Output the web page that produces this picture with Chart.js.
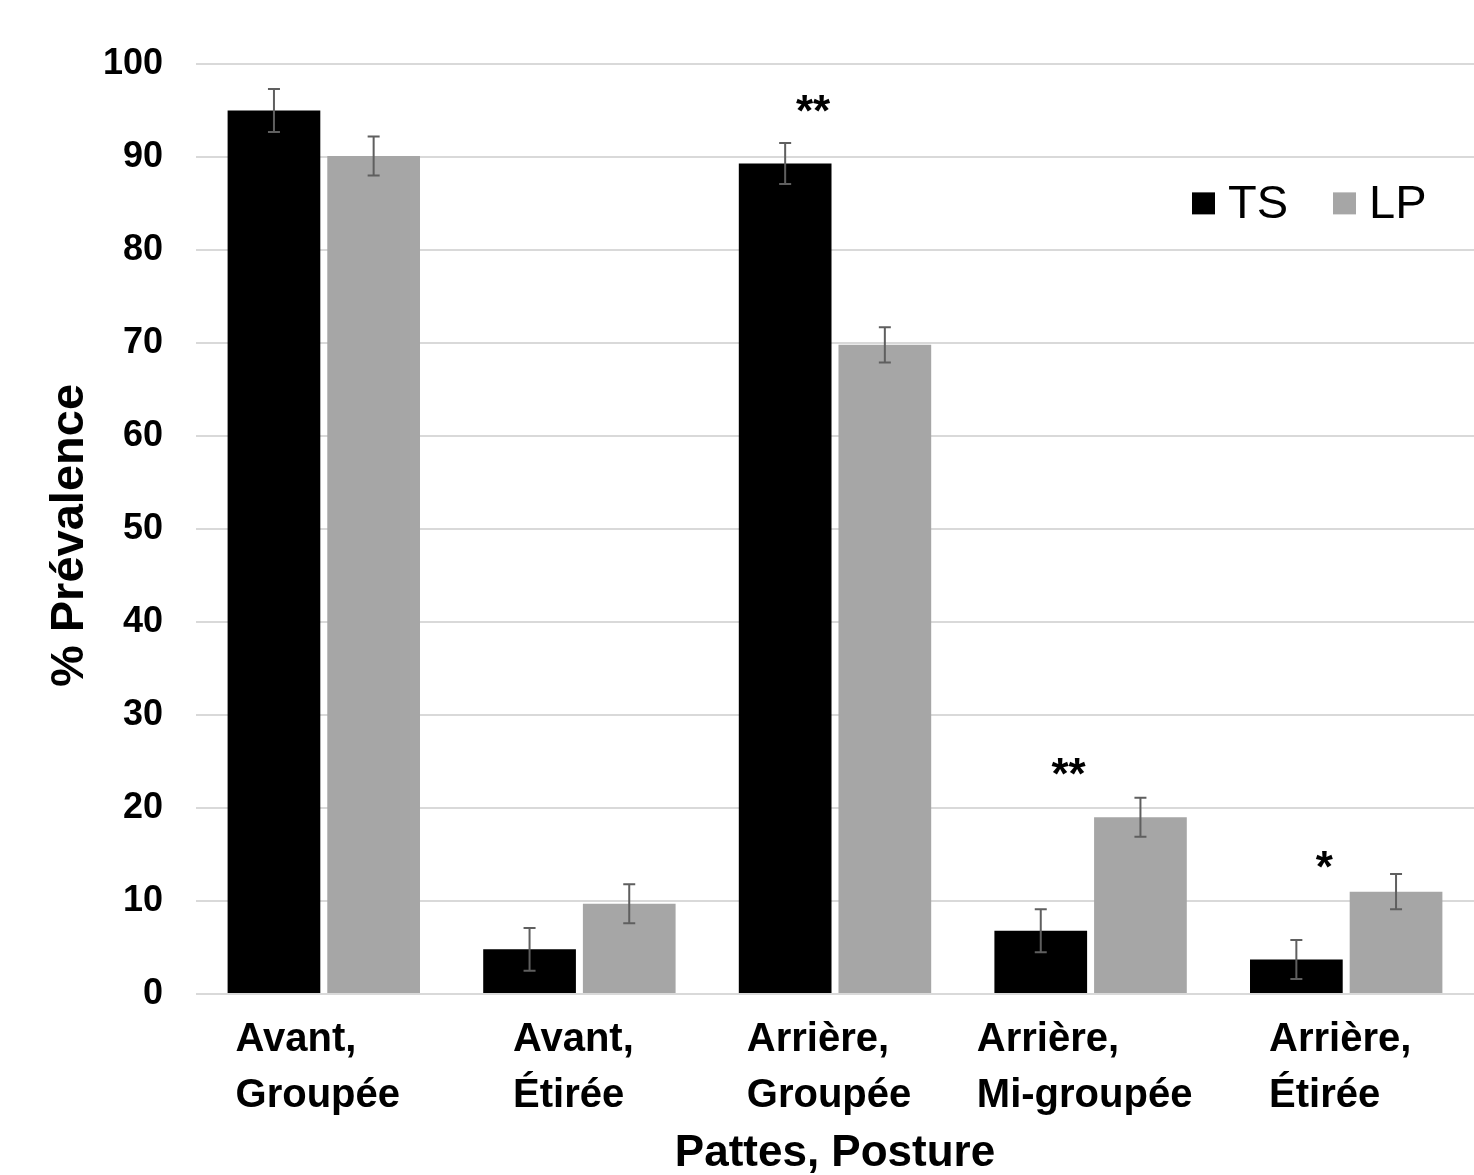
<!DOCTYPE html>
<html>
<head>
<meta charset="utf-8">
<script src="https://cdn.jsdelivr.net/npm/chart.js@4/dist/chart.umd.min.js"></script>
<style>
  html, body { margin: 0; padding: 0; background: #fff; }
  #wrap { width: 1474px; height: 1175px; position: relative; }
</style>
</head>
<body>
<div id="wrap"><canvas id="postureChart"></canvas></div>
<script>
// categories (multi-line labels)
const categories = [
    ["Avant,", "Groupée"],
    ["Avant,", "Étirée"],
    ["Arrière,", "Groupée"],
    ["Arrière,", "Mi-groupée"],
    ["Arrière,", "Étirée"]
];

// % prevalence per group
const tsValues = [95.0, 4.8, 89.3, 6.8, 3.7];
const lpValues = [90.1, 9.7, 69.8, 19.0, 11.0];

// error bars (+/-)
const tsErrors = [2.3, 2.3, 2.2, 2.3, 2.1];
const lpErrors = [2.1, 2.1, 1.9, 2.1, 1.9];

// significance marks and the value where they sit
const sigMarks = ["", "", "**", "**", "*"];
const sigLevel = [null, null, 93.3, 22.0, 12.0];

const yTicks = [0, 10, 20, 30, 40, 50, 60, 70, 80, 90, 100];

const FONT = "Liberation Sans, Arial, Helvetica, sans-serif";

// error bars
const errorBarPlugin = {
    id: "errorBars",
    afterDatasetsDraw(chart) {
        const ctx = chart.ctx;
        const y = chart.scales.y;
        const errs = [tsErrors, lpErrors];
        ctx.save();
        ctx.strokeStyle = "#5f5f5f";
        ctx.lineWidth = 2;
        chart.data.datasets.forEach(function (ds, di) {
            const meta = chart.getDatasetMeta(di);
            meta.data.forEach(function (bar, i) {
                const v = ds.data[i];
                const e = errs[di][i];
                const yTop = y.getPixelForValue(v + e);
                const yBot = y.getPixelForValue(v - e);
                ctx.beginPath();
                ctx.moveTo(bar.x, yTop);
                ctx.lineTo(bar.x, yBot);
                ctx.moveTo(bar.x - 6, yTop);
                ctx.lineTo(bar.x + 6, yTop);
                ctx.moveTo(bar.x - 6, yBot);
                ctx.lineTo(bar.x + 6, yBot);
                ctx.stroke();
            });
        });
        ctx.restore();
    }
};

// x labels (left aligned lines), stars and legend
const extrasPlugin = {
    id: "extras",
    afterDraw(chart) {
        const ctx = chart.ctx;
        const x = chart.scales.x;
        const y = chart.scales.y;
        const area = chart.chartArea;
        ctx.save();

        // category labels
        ctx.fillStyle = "#000";
        ctx.font = "bold 40px " + FONT;
        ctx.textAlign = "left";
        ctx.textBaseline = "alphabetic";
        categories.forEach(function (lines, i) {
            const cx = x.getPixelForValue(i);
            const w = Math.max.apply(null, lines.map(function (l) { return ctx.measureText(l).width; }));
            const left = cx - w / 2 - 6;
            lines.forEach(function (l, k) {
                ctx.fillText(l, left, area.bottom + 57 + k * 56);
            });
        });

        // significance stars
        ctx.font = "bold 44px " + FONT;
        ctx.textAlign = "center";
        sigMarks.forEach(function (m, i) {
            if (!m) return;
            ctx.fillText(m, x.getPixelForValue(i) - 22, y.getPixelForValue(sigLevel[i]));
        });

        // legend
        ctx.font = "47px " + FONT;
        ctx.textAlign = "left";
        let lx = area.right - 282;
        const ly = y.getPixelForValue(83.4);
        chart.data.datasets.forEach(function (ds) {
            ctx.fillStyle = ds.backgroundColor;
            ctx.fillRect(lx, ly - 26, 23, 22);
            ctx.fillStyle = "#000";
            ctx.fillText(ds.label, lx + 36, ly);
            lx += 141;
        });

        ctx.restore();
    }
};

const canvas = document.getElementById("postureChart");
new Chart(canvas, {
    type: "bar",
    data: {
        labels: categories,
        datasets: [
            {
                label: "TS",
                data: tsValues,
                backgroundColor: "#000000",
                categoryPercentage: 0.78,
                barPercentage: 0.93
            },
            {
                label: "LP",
                data: lpValues,
                backgroundColor: "#a6a6a6",
                categoryPercentage: 0.78,
                barPercentage: 0.93
            }
        ]
    },
    options: {
        responsive: true,
        maintainAspectRatio: false,
        animation: false,
        layout: { padding: { top: 64, right: 0, bottom: 0, left: 0 } },
        plugins: {
            legend: { display: false },
            tooltip: { enabled: false }
        },
        scales: {
            x: {
                grid: { display: false },
                border: { display: false },
                ticks: { display: false },
                afterFit: function (scale) { scale.height = 181; },
                title: {
                    display: true,
                    text: "Pattes, Posture",
                    color: "#000",
                    font: { family: FONT, size: 44, weight: "bold" },
                    padding: { top: 0, bottom: -5 }
                }
            },
            y: {
                min: 0,
                max: 100,
                afterBuildTicks: function (scale) {
                    scale.ticks = yTicks.map(function (v) { return { value: v }; });
                },
                grid: { color: "#d9d9d9", lineWidth: 2, drawTicks: false },
                border: { display: false },
                ticks: {
                    color: "#000",
                    padding: 33,
                    font: { family: FONT, size: 36, weight: "bold" }
                },
                afterFit: function (scale) { scale.width = 196; },
                title: {
                    display: true,
                    text: "% Prévalence ",
                    color: "#000",
                    font: { family: FONT, size: 47, weight: "bold" },
                    padding: { top: 42, bottom: 0 }
                }
            }
        }
    },
    plugins: [errorBarPlugin, extrasPlugin]
});
</script>
</body>
</html>
